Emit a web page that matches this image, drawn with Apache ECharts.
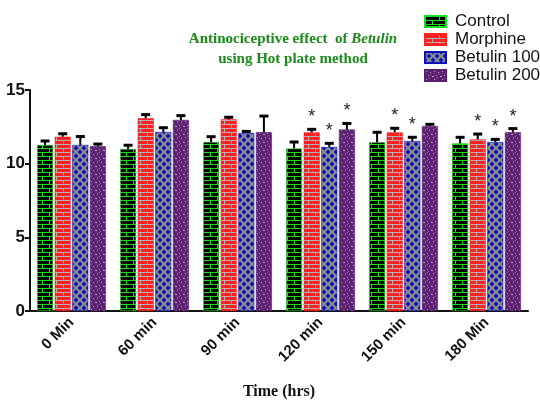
<!DOCTYPE html>
<html>
<head>
<meta charset="utf-8">
<script src="https://cdn.jsdelivr.net/npm/echarts@6/dist/echarts.min.js"></script>
<style>
  html, body { margin: 0; padding: 0; background: #fff; }
  #main { width: 540px; height: 403px; }
</style>
</head>
<body>
<div id="main"></div>
<script>
const categories = ['0 Min', '60 min', '90 min', '120 min', '150 min', '180 Min']
const seriesNames = ['Control', 'Morphine', 'Betulin 100', 'Betulin 200']
const yTicks = [0, 5, 10, 15]

const control = [11.27, 11.0, 11.47, 11.04, 11.45, 11.38]
const controlErr = [0.27, 0.25, 0.36, 0.43, 0.68, 0.41]
const morphine = [11.83, 13.08, 13.01, 12.13, 12.13, 11.65]
const morphineErr = [0.2, 0.25, 0.14, 0.2, 0.27, 0.36]
const betulin100 = [11.27, 12.15, 12.08, 11.13, 11.54, 11.47]
const betulin100Err = [0.57, 0.29, 0.11, 0.25, 0.25, 0.18]
const betulin200 = [11.18, 12.97, 12.13, 12.32, 12.56, 12.13]
const betulin200Err = [0.15, 0.29, 1.10, 0.41, 0.11, 0.25]
// 1 = significance star above the bar
const controlStar = [0, 0, 0, 0, 0, 0]
const morphineStar = [0, 0, 0, 1, 1, 1]
const betulin100Star = [0, 0, 0, 1, 1, 1]
const betulin200Star = [0, 0, 0, 1, 0, 1]

const values = [control, morphine, betulin100, betulin200]
const errors = [controlErr, morphineErr, betulin100Err, betulin200Err]
const stars = [controlStar, morphineStar, betulin100Star, betulin200Star]

// fill patterns, drawn once on small canvases
function brick (bg, line) {
  const c = document.createElement('canvas')
  c.width = 14
  c.height = 8
  const ctx = c.getContext('2d')
  ctx.fillStyle = bg
  ctx.fillRect(0, 0, 14, 8)
  ctx.fillStyle = line
  ctx.fillRect(0, 0, 14, 1)
  ctx.fillRect(0, 4, 14, 1)
  ctx.fillRect(0, 1, 1, 3)
  ctx.fillRect(7, 5, 1, 3)
  return c
}
function diamonds () {
  const c = document.createElement('canvas')
  c.width = 8
  c.height = 8
  const ctx = c.getContext('2d')
  ctx.fillStyle = '#8c8c8c'
  ctx.fillRect(0, 0, 8, 8)
  ctx.fillStyle = '#0a10b8'
  const pts = [[4, 4], [0, 0], [8, 0], [0, 8], [8, 8]]
  pts.forEach(p => {
    ctx.beginPath()
    ctx.moveTo(p[0], p[1] - 2.4)
    ctx.lineTo(p[0] + 2.4, p[1])
    ctx.lineTo(p[0], p[1] + 2.4)
    ctx.lineTo(p[0] - 2.4, p[1])
    ctx.closePath()
    ctx.fill()
  })
  return c
}
function speckle () {
  const c = document.createElement('canvas')
  c.width = 8
  c.height = 8
  const ctx = c.getContext('2d')
  ctx.fillStyle = '#5a1f6e'
  ctx.fillRect(0, 0, 8, 8)
  ctx.fillStyle = '#c9a6d6'
  ;[[1, 1], [5, 2], [3, 5], [7, 6], [0, 6]].forEach(p => ctx.fillRect(p[0], p[1], 1, 1))
  ctx.fillStyle = '#8d5aa0'
  ;[[3, 0], [6, 4], [1, 3], [4, 7]].forEach(p => ctx.fillRect(p[0], p[1], 1, 1))
  return c
}

const fills = [
  { image: brick('#000000', '#18e018'), repeat: 'repeat' },
  { image: brick('#ff2020', '#b4b4b4'), repeat: 'repeat' },
  { image: diamonds(), repeat: 'repeat' },
  { image: speckle(), repeat: 'repeat' }
]
const borders = ['#18e018', '#ff2020', '#0a10b8', '#5a1f6e']

const BAR_W = 16
const BAR_STEP = 17.6

const chart = echarts.init(document.getElementById('main'))

const barSeries = seriesNames.map((name, i) => ({
  name: name,
  type: 'bar',
  barWidth: BAR_W,
  barGap: '10%',
  itemStyle: { color: fills[i], borderColor: borders[i], borderWidth: 0.6 },
  data: values[i]
}))

const errSeries = seriesNames.map((name, i) => ({
  type: 'custom',
  z: 5,
  silent: true,
  data: values[i].map((v, k) => [k, v, errors[i][k], stars[i][k]]),
  renderItem (params, api) {
    const k = api.value(0)
    const v = api.value(1)
    const e = api.value(2)
    const s = api.value(3)
    const off = (i - 1.5) * BAR_STEP
    const base = api.coord([k, v])
    const top = api.coord([k, v + e])
    const x = base[0] + off
    const children = [
      { type: 'line', shape: { x1: x, y1: base[1], x2: x, y2: top[1] }, style: { stroke: '#000', lineWidth: 2 } },
      { type: 'line', shape: { x1: x - 4.5, y1: top[1], x2: x + 4.5, y2: top[1] }, style: { stroke: '#000', lineWidth: 3 } }
    ]
    if (s) {
      children.push({
        type: 'text',
        style: { text: '*', x: x, y: top[1] - 3, align: 'center', verticalAlign: 'bottom', font: '18px Arial', fill: '#222' }
      })
    }
    return { type: 'group', children: children }
  }
}))

chart.setOption({
  animation: false,
  title: {
    text: '{a|Antinociceptive effect  of }{b|Betulin}\n{a|using Hot plate method}',
    left: 288,
    top: 24,
    textAlign: 'center',
    textStyle: {
      rich: {
        a: { fontFamily: 'Liberation Serif', fontWeight: 'bold', fontSize: 15, color: '#1b8a1b', lineHeight: 20, align: 'center' },
        b: { fontFamily: 'Liberation Serif', fontWeight: 'bold', fontStyle: 'italic', fontSize: 15, color: '#1b8a1b', lineHeight: 20 }
      }
    }
  },
  legend: {
    orient: 'vertical',
    left: 419,
    top: 8,
    itemWidth: 21,
    itemHeight: 11,
    itemGap: 1,
    icon: 'rect',
    data: seriesNames,
    textStyle: { fontFamily: 'Liberation Sans', fontSize: 17, color: '#111', padding: [0, 0, 0, 4] }
  },
  grid: { left: 30, right: 12, top: 90, bottom: 92, outerBoundsMode: 'none' },
  xAxis: {
    type: 'category',
    data: categories,
    name: 'Time (hrs)',
    nameLocation: 'middle',
    nameGap: 73,
    nameTextStyle: { fontFamily: 'Liberation Serif', fontWeight: 'bold', fontSize: 16, color: '#111' },
    axisLine: { lineStyle: { color: '#111', width: 2 } },
    axisTick: { alignWithLabel: true, length: 5, lineStyle: { color: '#111', width: 2 } },
    axisLabel: { rotate: 45, margin: 9, fontFamily: 'Liberation Sans', fontWeight: 'bold', fontSize: 15, color: '#111' }
  },
  yAxis: {
    type: 'value',
    min: yTicks[0],
    max: yTicks[yTicks.length - 1],
    interval: 5,
    splitLine: { show: false },
    axisLine: { show: true, lineStyle: { color: '#111', width: 2 } },
    axisTick: { show: true, length: 5, lineStyle: { color: '#111', width: 2 } },
    axisLabel: { margin: 5, fontFamily: 'Liberation Sans', fontWeight: 'bold', fontSize: 17, color: '#111' }
  },
  series: barSeries.concat(errSeries)
})
</script>
</body>
</html>
